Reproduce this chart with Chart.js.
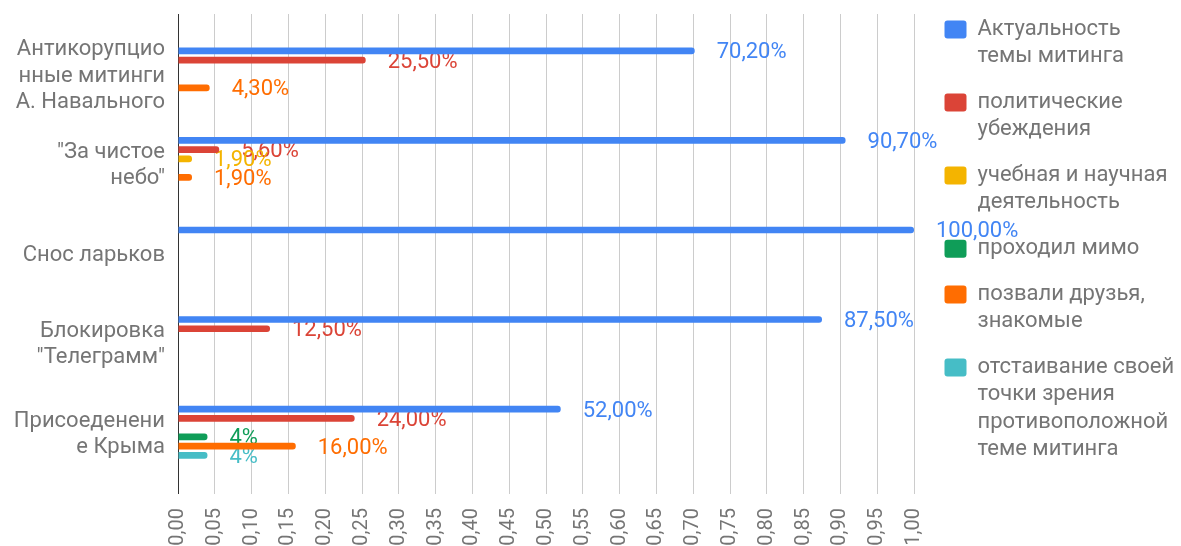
<!DOCTYPE html>
<html>
<head>
<meta charset="utf-8">
<script src="https://cdn.jsdelivr.net/npm/chart.js@4.4.1/dist/chart.umd.min.js"></script>
<style>
  html, body { margin: 0; padding: 0; background: #fff; }
  #wrap { width: 1181px; height: 546px; position: relative; }
</style>
</head>
<body>
<div id="wrap"><canvas id="c" width="1181" height="546"></canvas></div>
<script>
// ---- data ----
const categories = [
  ['Антикорупцио', 'нные митинги', 'А. Навального'],
  ['"За чистое', 'небо"'],
  ['Снос ларьков'],
  ['Блокировка', '"Телеграмм"'],
  ['Присоеденени', 'е Крыма']
];
const seriesNames = [
  ['Актуальность', 'темы митинга'],
  ['политические', 'убеждения'],
  ['учебная и научная', 'деятельность'],
  ['проходил мимо'],
  ['позвали друзья,', 'знакомые'],
  ['отстаивание своей', 'точки зрения', 'противоположной', 'теме митинга']
];
const actuality = [0.702, 0.907, 1.00, 0.875, 0.52];
const political = [0.255, 0.056, null, 0.125, 0.24];
const study     = [null, 0.019, null, null, null];
const passingBy = [null, null, null, null, 0.04];
const friends   = [0.043, 0.019, null, null, 0.16];
const opposing  = [null, null, null, null, 0.04];
const labelDecimals = [2, 2, 2, 0, 2, 0];
const xTickValues = [0, 0.05, 0.10, 0.15, 0.20, 0.25, 0.30, 0.35, 0.40, 0.45, 0.50,
                     0.55, 0.60, 0.65, 0.70, 0.75, 0.80, 0.85, 0.90, 0.95, 1.00];

// ---- styles ----
const colors = ['#4285f4', '#db4437', '#f4b400', '#0f9d58', '#ff6d01', '#46bdc6'];
const FONT = 'Roboto';
const GRAY = '#757575';

const seriesValues = [actuality, political, study, passingBy, friends, opposing];

const datasets = seriesValues.map((vals, k) => ({
  label: seriesNames[k].join(' '),
  data: vals.map((v, i) => (v === null ? null : { x: v, y: i })).filter(p => p !== null),
  backgroundColor: colors[k],
  borderWidth: 0,
  borderRadius: 3,
  categoryPercentage: 0.62,
  barPercentage: 0.72
}));

const valueLabels = {
  id: 'valueLabels',
  beforeDatasetsDraw(chart) {
    const ctx = chart.ctx;
    ctx.save();
    ctx.font = '22px ' + FONT;
    ctx.textAlign = 'left';
    ctx.textBaseline = 'middle';
    chart.data.datasets.forEach((ds, k) => {
      const meta = chart.getDatasetMeta(k);
      meta.data.forEach((el, j) => {
        const v = ds.data[j].x;
        const txt = (v * 100).toFixed(labelDecimals[k]).replace('.', ',') + '%';
        ctx.fillStyle = colors[k];
        ctx.fillText(txt, el.x + 22, el.y + 2);
      });
    });
    ctx.restore();
  }
};

new Chart(document.getElementById('c'), {
  type: 'bar',
  data: { datasets },
  options: {
    indexAxis: 'y',
    responsive: false,
    animation: false,
    layout: { padding: 0 },
    scales: {
      x: {
        type: 'linear',
        position: 'bottom',
        min: 0,
        max: 1,
        afterBuildTicks: s => { s.ticks = xTickValues.map(v => ({ value: v })); },
        afterFit: s => { s.height = 52; },
        grid: {
          drawTicks: false,
          color: c => (c.tick && c.tick.value === 0 ? '#333333' : '#cccccc'),
          lineWidth: 1
        },
        border: { display: false },
        ticks: {
          autoSkip: false,
          minRotation: 90,
          maxRotation: 90,
          padding: 14,
          color: GRAY,
          font: { family: FONT, size: 20 },
          callback: v => Number(v).toFixed(2).replace('.', ',')
        }
      },
      y: {
        type: 'linear',
        position: 'left',
        reverse: true,
        offset: false,
        min: -0.67,
        max: 4.69,
        afterBuildTicks: s => { s.ticks = categories.map((_, i) => ({ value: i })); },
        afterFit: s => { s.width = 178; s.paddingTop = 0; s.paddingBottom = 0; },
        grid: { display: false, drawTicks: false },
        border: { display: false },
        ticks: {
          padding: 13,
          labelOffset: 2,
          color: GRAY,
          font: { family: FONT, size: 22, lineHeight: 1.2 },
          callback: v => categories[v]
        }
      },
      xTop: {
        type: 'linear', axis: 'x', position: 'top', display: true,
        grid: { display: false }, border: { display: false }, ticks: { display: false },
        afterFit: s => { s.height = 14; }
      },
      yRight: {
        type: 'linear', axis: 'y', position: 'right', display: true,
        grid: { display: false }, border: { display: false }, ticks: { display: false },
        afterFit: s => { s.width = 12; s.paddingTop = 0; s.paddingBottom = 0; }
      }
    },
    plugins: {
      tooltip: { enabled: false },
      legend: {
        position: 'right',
        align: 'start',
        maxWidth: 255,
        labels: {
          boxWidth: 22,
          boxHeight: 18,
          padding: 18.5,
          useBorderRadius: true,
          borderRadius: 3,
          color: GRAY,
          font: { family: FONT, size: 22, lineHeight: 1.24 },
          generateLabels: () => seriesNames.map((lines, k) => ({
            text: lines,
            fillStyle: colors[k],
            strokeStyle: colors[k],
            lineWidth: 0,
            borderRadius: 3,
            hidden: false,
            datasetIndex: k,
            fontColor: GRAY
          }))
        }
      }
    }
  },
  plugins: [valueLabels]
});
</script>
</body>
</html>
